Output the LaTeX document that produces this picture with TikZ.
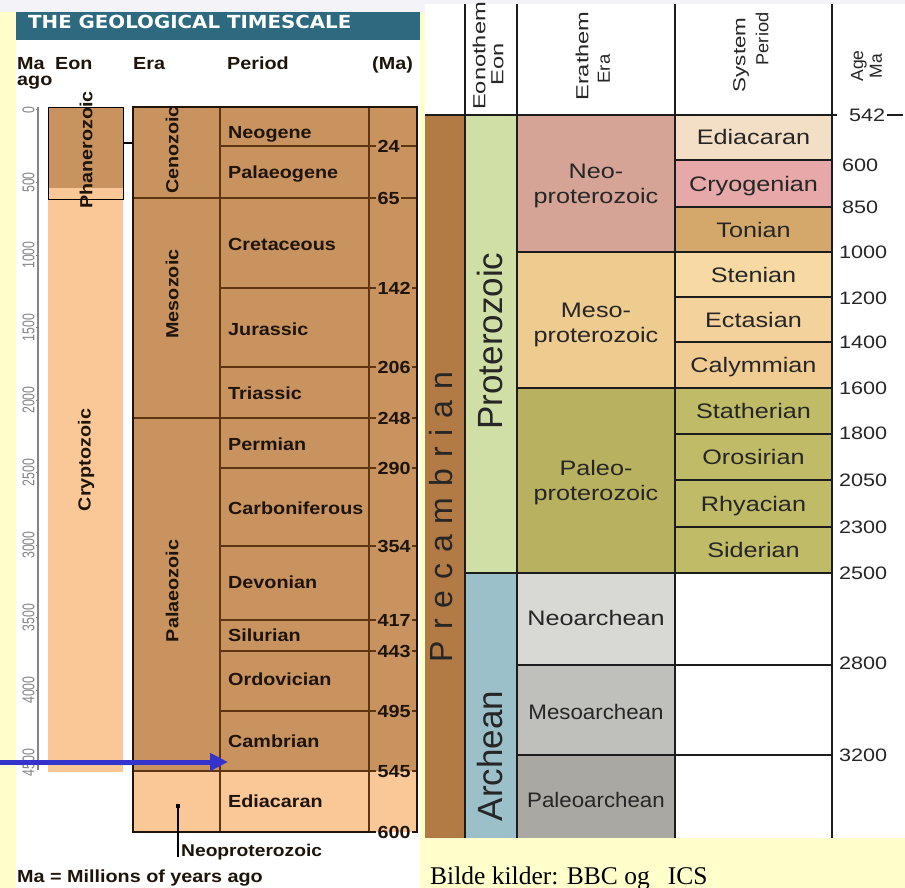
\documentclass[tikz,border=0pt]{standalone}
\usepackage{graphicx}
\usepackage{fontspec}
\setmainfont{Liberation Sans}
\newfontfamily\bbcfont[FakeStretch=1.13]{Liberation Sans}
\newfontfamily\icsfont[FakeStretch=1.2]{Liberation Sans}
\newfontfamily\titlefont[FakeStretch=1.1]{DejaVu Sans}
\newfontfamily\serfont{Liberation Serif}
\newfontfamily\precfont[LetterSpace=34]{Liberation Sans}
\usetikzlibrary{arrows.meta}
\newcommand\fsz[1]{\fontsize{#1}{#1}\selectfont}
\definecolor{bgyellow}{HTML}{FFFFCC}
\definecolor{strip}{HTML}{F3F3F8}
\definecolor{titlebar}{HTML}{2D6A7F}
\definecolor{brownc}{HTML}{C8935F}
\definecolor{lightor}{HTML}{F9C896}
\definecolor{tbrown}{HTML}{5E3411}
\definecolor{txt}{HTML}{1E140A}
\definecolor{axgray}{HTML}{858585}
\definecolor{bluearr}{HTML}{3434CC}
\definecolor{precc}{HTML}{B27A45}
\definecolor{proter}{HTML}{D0DFA6}
\definecolor{arche}{HTML}{9CC0C9}
\definecolor{eneo}{HTML}{D5A496}
\definecolor{emeso}{HTML}{EECB8F}
\definecolor{epaleo}{HTML}{B8B160}
\definecolor{eneoar}{HTML}{D8D8D4}
\definecolor{emesoar}{HTML}{BFBFBB}
\definecolor{epaleoar}{HTML}{A9A8A2}
\definecolor{pedi}{HTML}{F3DFC5}
\definecolor{pcryo}{HTML}{E6A8A8}
\definecolor{pton}{HTML}{D4A86B}
\definecolor{psten}{HTML}{F6D9A3}
\definecolor{pecta}{HTML}{F3D29B}
\definecolor{pcaly}{HTML}{F0CC92}
\definecolor{pstat}{HTML}{BFBB66}
\definecolor{rblack}{HTML}{1C1C1C}
\definecolor{rtxt}{HTML}{262626}
\begin{document}
\begin{tikzpicture}[x=1pt,y=-1pt,
  lab/.style={font=\bbcfont\bfseries\fsz{17.5}, text=txt, inner sep=0pt, anchor=base west},
  malab/.style={font=\bbcfont\bfseries\fsz{17.5}, text=txt, inner sep=1.5pt, anchor=base west},
  eralab/.style={font=\bbcfont\bfseries\fsz{17.5}, text=txt, inner sep=0pt, rotate=90},
  axlab/.style={font=\bbcfont\fsz{17}, text=axgray, inner sep=0pt, rotate=90},
  tline/.style={draw=tbrown, line width=1.3pt},
  rline/.style={draw=rblack, line width=2pt},
  perr/.style={font=\icsfont\fsz{21}, text=rtxt, inner sep=0pt, anchor=base},
  erar/.style={font=\icsfont\fontsize{21}{25}\selectfont, text=rtxt, inner sep=0pt, align=center},
  hdr/.style={font=\fsz{17.5}, text=rtxt, inner sep=0pt, rotate=90},
  agelab/.style={font=\icsfont\fsz{18}, text=rtxt, inner sep=0pt, anchor=base west},
  bigrot/.style={font=\fsz{35}, text=rtxt, inner sep=0pt, rotate=90},
]
\useasboundingbox (0,0) rectangle (905,888);
% backgrounds
\fill[bgyellow] (0,0) rectangle (905,888);
\fill[strip] (0,0) rectangle (905,12);
\fill[white] (16,12) rectangle (420,888);
\fill[titlebar] (16,12) rectangle (420,40);
\fill[white] (425,4) rectangle (905,838);

% ---------------- LEFT PANEL ----------------
\node[font=\titlefont\bfseries\fsz{18}, text=white, inner sep=0pt, anchor=base west] (title) at (28,29) {THE GEOLOGICAL TIMESCALE};
\node[lab] (hMa) at (17,70) {Ma};
\node[lab] (hago) at (17,86) {ago};
\node[lab] (hEonL) at (55,70) {Eon};
\node[lab] (hEraL) at (133,70) {Era};
\node[lab] (hPeriodL) at (227,70) {Period};
\node[lab] (hMaR) at (372,70) {(Ma)};

% axis
\draw[axgray, line width=1.2pt] (38,107) -- (38,770);
\foreach \v [count=\i from 0] in {0,500,1000,1500,2000,2500,3000,3500,4000,4500} {
  \node[axlab] (ax\i) at (28.5,110+\i*72.5) {\scalebox{0.64}[1]{\v}};
  \draw[axgray, line width=1pt] (35.5,110+\i*72.5) -- (38,110+\i*72.5);
}

% eon column
\fill[lightor] (48,188) rectangle (123,772);
\fill[brownc] (48,107) rectangle (123,188);
\node[draw=black, line width=1.3pt, minimum width=75pt, minimum height=92pt, inner sep=0pt, anchor=north west] (phbox) at (48,107) {};
\node[eralab] (phan) at (86,150) {Phanerozoic};
\node[eralab] (crypto) at (86,460) {Cryptozoic};

% main table
\fill[brownc] (133,107) rectangle (417,771);
\fill[lightor] (133,771) rectangle (417,832);
\node[minimum width=284pt, minimum height=725pt, inner sep=0pt, anchor=north west] (tbl) at (133,107) {};
\draw[line width=1.3pt] (phbox.east |- 0,143) -- (tbl.west |- 0,143);
\draw[tline] (220,107) -- (220,832);
\draw[tline] (369,107) -- (369,832);
\foreach \v/\y/\xs in {24/146/220, 65/198/133, 142/288/220, 206/367/220, 248/418/133, 290/468/220, 354/546/220, 417/620/220, 443/651/220, 495/711/220, 545/771/133} {
  \node[malab] (m\v) at (376,\y+6.2) {\v};
  \draw[tline] (\xs,\y) -- (m\v.west |- 0,\y);
  \draw[tline] (m\v.east |- 0,\y) -- (417,\y);
}
\node[malab] (m600) at (376,838.2) {600};
\draw[draw=txt, line width=2pt] (m600.west |- 0,832) -- (133,832) -- (133,107) -- (417,107) -- (417,832) -- (m600.east |- 0,832);

\node[eralab] (ceno) at (172,150) {Cenozoic};
\node[eralab] (meso) at (172,294) {Mesozoic};
\node[eralab] (palaeo) at (172,591) {Palaeozoic};

\foreach \t/\y [count=\i] in {Neogene/132, Palaeogene/172, Cretaceous/244, Jurassic/329, Triassic/393, Permian/444, Carboniferous/508, Devonian/582, Silurian/635, Ordovician/679, Cambrian/741, Ediacaran/801} {
  \node[lab] (pl\i) at (228,\y+6.2) {\t};
}

% Neoproterozoic pointer
\node[fill=black, minimum size=4pt, inner sep=0pt] (npdot) at (178,806) {};
\coordinate (npend) at (178,857);
\draw[line width=1.2pt] (npdot.center) -- (npend);
\node[font=\bbcfont\bfseries\fsz{17}, text=txt, inner sep=0pt, anchor=base west] (neoprot) at (181,856) {Neoproterozoic};
\node[lab] (malegend) at (17,882) {Ma = Millions of years ago};

% blue arrow
\coordinate (arrS) at (0,762);
\coordinate (arrE) at (228,762);
\draw[bluearr, line width=5pt, -{Triangle[length=18pt, width=17pt]}] (arrS) -- (arrE);

% ---------------- RIGHT PANEL ----------------
\fill[precc] (425,115) rectangle (465,838);
\fill[proter] (465,115) rectangle (517,573);
\fill[arche] (465,573) rectangle (517,838);
\fill[eneo] (517,115) rectangle (675,252);
\fill[emeso] (517,252) rectangle (675,388);
\fill[epaleo] (517,388) rectangle (675,573);
\fill[eneoar] (517,573) rectangle (675,665);
\fill[emesoar] (517,665) rectangle (675,755);
\fill[epaleoar] (517,755) rectangle (675,838);
\foreach \ya/\yb/\c in {115/160/pedi, 160/207/pcryo, 207/252/pton, 252/297/psten, 297/342/pecta, 342/388/pcaly, 388/434/pstat, 434/480/pstat, 480/527/pstat, 527/573/pstat} {
  \fill[\c] (675,\ya) rectangle (832,\yb);
}
% lines
\foreach \x in {465,517,675,832} { \draw[rline] (\x,4) -- (\x,838); }
\draw[rline, line width=2.6pt] (425,115) -- (837,115);
\draw[rline] (517,252) -- (832,252);
\draw[rline] (517,388) -- (832,388);
\draw[rline] (465,573) -- (832,573);
\draw[rline] (517,665) -- (832,665);
\draw[rline] (517,755) -- (832,755);
\foreach \y in {160,207,297,342,434,480,527} { \draw[rline] (675,\y) -- (832,\y); }

% headers
\node[hdr] (hEonothem) at (479,56) {\scalebox{1.35}[1]{Eonothem}};
\node[hdr] (hEon) at (497.5,64) {\scalebox{1.35}[1]{Eon}};
\node[hdr] (hErathem) at (582,56) {\scalebox{1.35}[1]{Erathem}};
\node[hdr] (hEra) at (604,69) {\scalebox{1.06}[1]{Era}};
\node[hdr] (hSystem) at (741,55) {\scalebox{1.28}[1]{System}};
\node[hdr] (hPeriod) at (762,39) {\scalebox{1.04}[1]{Period}};
\node[hdr] (hAge) at (859,66) {Age};
\node[hdr] (hMaAge) at (876,66) {Ma};

% big rotated labels
\node[font=\precfont\fsz{32}, text=rtxt, inner sep=0pt, rotate=90] (prec) at (441,517) {Precambrian};
\node[bigrot] (proterozoic) at (490,341) {Proterozoic};
\node[bigrot] (archean) at (490,756) {Archean};

% era labels
\node[erar] (eNeo) at (596,185.5) {Neo-\\proterozoic};
\node[erar] (eMeso) at (596,324.5) {Meso-\\proterozoic};
\node[erar] (ePaleo) at (596,483) {Paleo-\\proterozoic};
\node[perr] (eNeoar) at (596,625.5) {Neoarchean};
\node[perr] (eMesoar) at (596,719.5) {\scalebox{0.885}[1]{Mesoarchean}};
\node[perr] (ePaleoar) at (596,807.5) {\scalebox{0.885}[1]{Paleoarchean}};

% period labels
\foreach \t/\c [count=\i] in {Ediacaran/137.5, Cryogenian/183.5, Tonian/229.5, Stenian/274.5, Ectasian/319.5, Calymmian/365, Statherian/411, Orosirian/457, Rhyacian/503.5, Siderian/550} {
  \node[perr] (rp\i) at (753.5,\c+7.5) {\t};
}

% ages
\node[agelab] (a542) at (849,121.5) {542};
\draw[rline, shorten <=2pt] (a542.east |- 0,115) -- (903,115);
\foreach \t/\y/\x [count=\i] in {600/165/842, 850/207/842, 1000/252/839, 1200/298/839, 1400/342/839, 1600/388/839, 1800/433/839, 2050/480/839, 2300/527/839, 2500/573/839, 2800/663/839, 3200/755/839} {
  \node[agelab] (ag\i) at (\x,\y+6.5) {\t};
}

% source
\node[font=\serfont\fsz{25.5}, text=black, inner sep=0pt, anchor=base west] (src) at (430,884) {Bilde kilder: BBC og\hspace{18pt}ICS};
\end{tikzpicture}
\end{document}
